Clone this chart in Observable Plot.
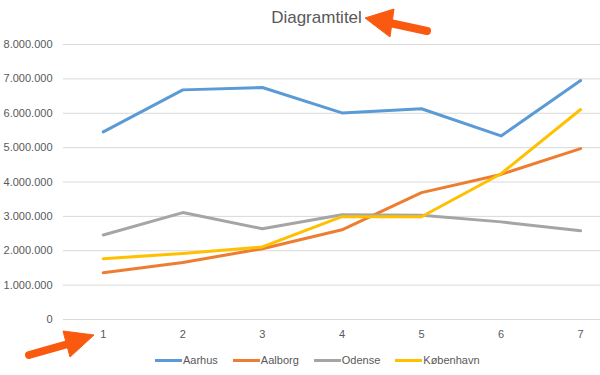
<!DOCTYPE html>
<html>
<head>
<meta charset="utf-8">
<script src="https://cdn.jsdelivr.net/npm/d3@7"></script>
<script src="https://cdn.jsdelivr.net/npm/@observablehq/plot@0.6"></script>
<style>
  html, body { margin: 0; padding: 0; background: #fff; }
  #chart { position: relative; width: 600px; height: 375px; overflow: hidden; font-family: "Liberation Sans", Arial, sans-serif; }
  #title { position: absolute; left: 0; width: 633px; top: 8px; text-align: center; font-size: 17px; color: #595959; }
  #legend { position: absolute; top: 354px; left: 155px; display: flex; gap: 15px; font-size: 11px; color: #595959; }
  .item { display: flex; align-items: center; }
  .sw { width: 27px; height: 3px; margin-right: 1px; }
  #arrows { position: absolute; left: 0; top: 0; }
</style>
</head>
<body>
<div id="chart">
  <div id="title">Diagramtitel</div>
  <div id="legend"></div>
</div>
<script>
const categories = [1, 2, 3, 4, 5, 6, 7];
const seriesNames = ["Aarhus", "Aalborg", "Odense", "København"];
const seriesColors = ["#5B9BD5", "#ED7D31", "#A5A5A5", "#FFC000"];
const aarhus    = [5460000, 6680000, 6750000, 6010000, 6130000, 5340000, 6950000];
const aalborg   = [1360000, 1660000, 2060000, 2610000, 3690000, 4220000, 4970000];
const odense    = [2460000, 3110000, 2640000, 3050000, 3030000, 2840000, 2580000];
const kobenhavn = [1770000, 1920000, 2110000, 2990000, 2990000, 4240000, 6110000];
const yTicks = [0, 1000000, 2000000, 3000000, 4000000, 5000000, 6000000, 7000000, 8000000];

const seriesValues = [aarhus, aalborg, odense, kobenhavn];
const rows = [];
seriesNames.forEach((name, i) => {
  categories.forEach((c, j) => rows.push({series: name, x: c, y: seriesValues[i][j]}));
});

const locale = d3.formatLocale({decimal: ",", thousands: ".", grouping: [3], currency: ["", " kr"]});
const fmt = locale.format(",d");

const chart = Plot.plot({
  width: 600,
  height: 375,
  marginTop: 44,
  marginBottom: 56,
  marginLeft: 63,
  marginRight: 0,
  style: {fontFamily: "Liberation Sans, Arial, sans-serif", fontSize: "11px", color: "#595959", background: "transparent"},
  x: {type: "linear", domain: [0.5, 7.25], ticks: categories, tickFormat: d => String(d), tickSize: 0, tickPadding: 11, label: null},
  y: {domain: [0, 8000000], ticks: yTicks, tickFormat: fmt, tickSize: 0, tickPadding: 11, label: null},
  color: {domain: seriesNames, range: seriesColors},
  marks: [
    Plot.gridY(yTicks, {stroke: "#d9d9d9", strokeOpacity: 1, strokeWidth: 1}),
    Plot.axisX({ticks: categories, tickSize: 0, tickPadding: 11, tickFormat: d => String(d), fill: "#595959", label: null}),
    Plot.axisY({ticks: yTicks, tickSize: 0, tickPadding: 11, tickFormat: fmt, fill: "#595959", label: null}),
    Plot.line(rows, {x: "x", y: "y", z: "series", stroke: "series", strokeWidth: 3, strokeLinejoin: "round", strokeLinecap: "round"})
  ]
});
const container = document.getElementById("chart");
container.insertBefore(chart, container.firstChild);

const legend = document.getElementById("legend");
seriesNames.forEach((name, i) => {
  const it = document.createElement("div");
  it.className = "item";
  const sw = document.createElement("div");
  sw.className = "sw";
  sw.style.background = seriesColors[i];
  const t = document.createElement("span");
  t.textContent = name;
  it.appendChild(sw); it.appendChild(t);
  legend.appendChild(it);
});

// annotation arrows overlay
const ns = "http://www.w3.org/2000/svg";
const ov = document.createElementNS(ns, "svg");
ov.setAttribute("id", "arrows");
ov.setAttribute("width", 600);
ov.setAttribute("height", 375);
ov.innerHTML = `
  <g fill="#F95A10" stroke="#F95A10">
    <line x1="390" y1="23" x2="427" y2="31" stroke-width="8" stroke-linecap="round"/>
    <polygon points="365,18 394,9 390,37" stroke-width="1" stroke-linejoin="round"/>
    <line x1="68" y1="344" x2="29" y2="355" stroke-width="8" stroke-linecap="round"/>
    <polygon points="94,335 63,331 70,357" stroke-width="1" stroke-linejoin="round"/>
  </g>`;
container.appendChild(ov);
</script>
</body>
</html>
